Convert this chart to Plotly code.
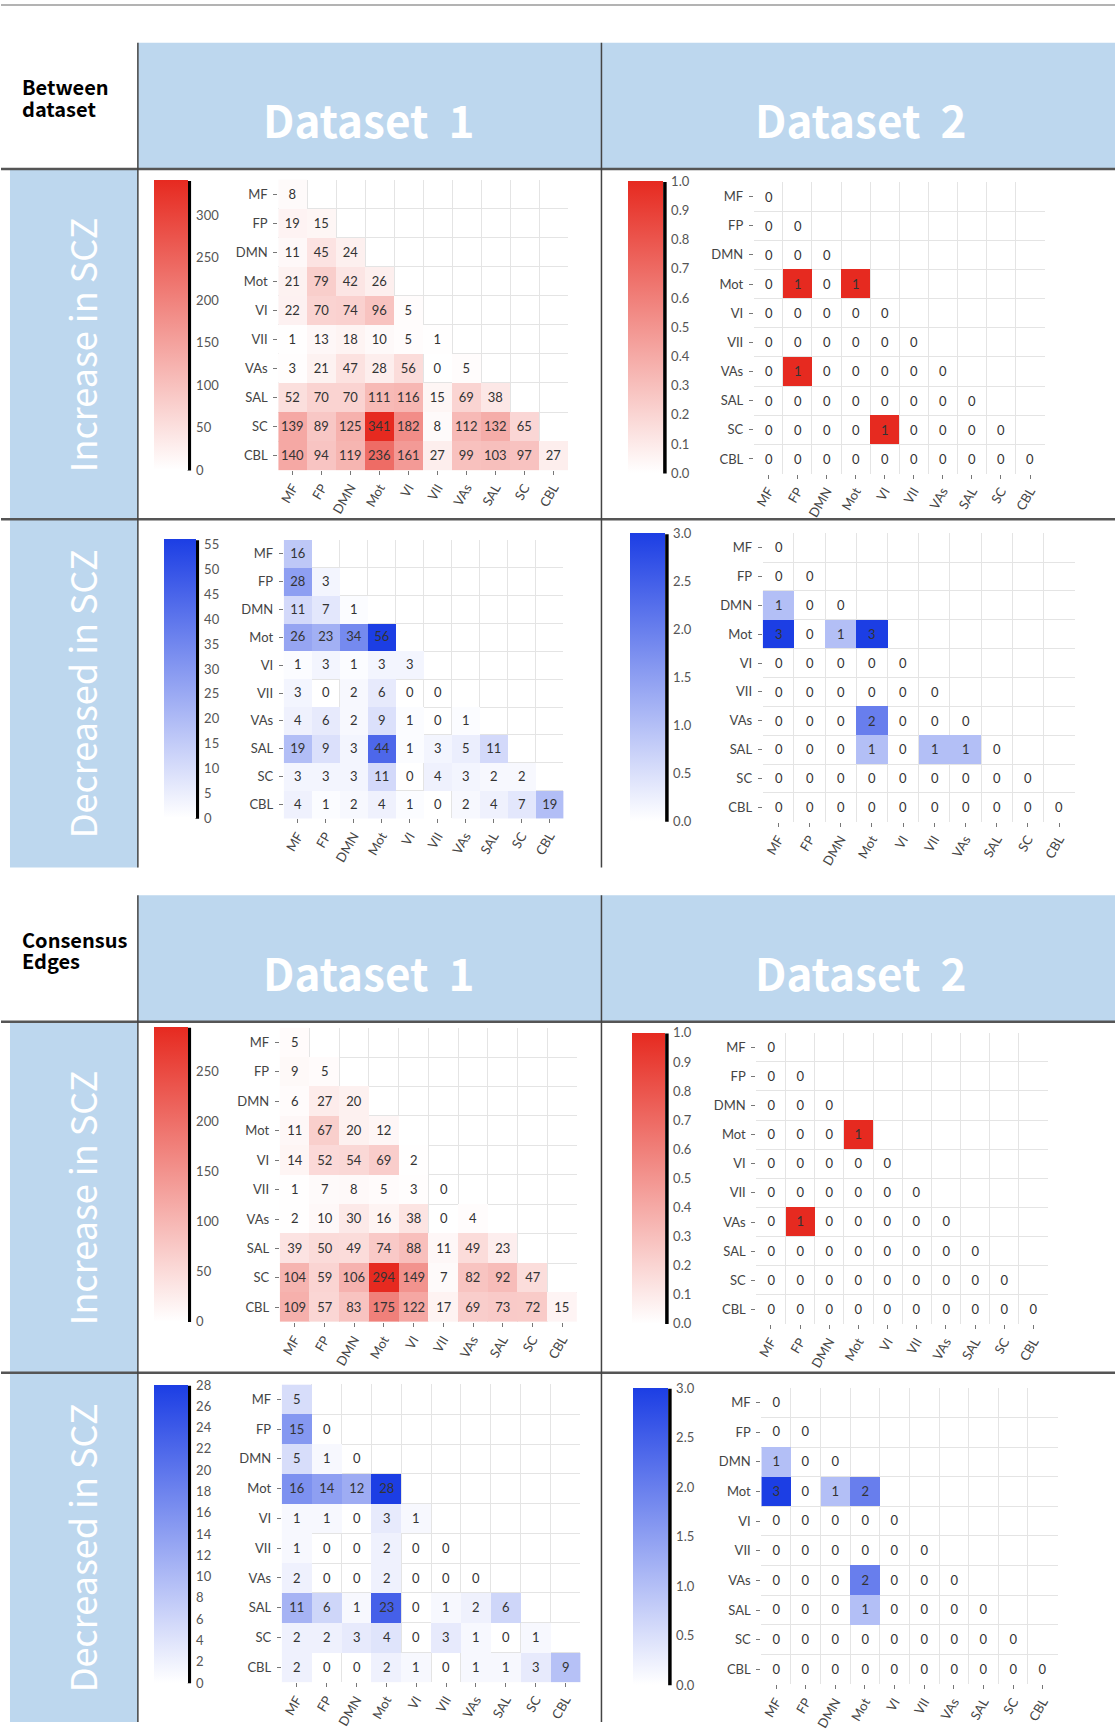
import plotly.graph_objects as go

W, H = 1115, 1731

networks = ["MF", "FP", "DMN", "Mot", "VI", "VII", "VAs", "SAL", "SC", "CBL"]

# ---- data: lower-triangle rows (row i has i+1 values) ----
between_d1_increase = [
    [8],
    [19, 15],
    [11, 45, 24],
    [21, 79, 42, 26],
    [22, 70, 74, 96, 5],
    [1, 13, 18, 10, 5, 1],
    [3, 21, 47, 28, 56, 0, 5],
    [52, 70, 70, 111, 116, 15, 69, 38],
    [139, 89, 125, 341, 182, 8, 112, 132, 65],
    [140, 94, 119, 236, 161, 27, 99, 103, 97, 27],
]
between_d2_increase = [
    [0],
    [0, 0],
    [0, 0, 0],
    [0, 1, 0, 1],
    [0, 0, 0, 0, 0],
    [0, 0, 0, 0, 0, 0],
    [0, 1, 0, 0, 0, 0, 0],
    [0, 0, 0, 0, 0, 0, 0, 0],
    [0, 0, 0, 0, 1, 0, 0, 0, 0],
    [0, 0, 0, 0, 0, 0, 0, 0, 0, 0],
]
between_d1_decrease = [
    [16],
    [28, 3],
    [11, 7, 1],
    [26, 23, 34, 56],
    [1, 3, 1, 3, 3],
    [3, 0, 2, 6, 0, 0],
    [4, 6, 2, 9, 1, 0, 1],
    [19, 9, 3, 44, 1, 3, 5, 11],
    [3, 3, 3, 11, 0, 4, 3, 2, 2],
    [4, 1, 2, 4, 1, 0, 2, 4, 7, 19],
]
between_d2_decrease = [
    [0],
    [0, 0],
    [1, 0, 0],
    [3, 0, 1, 3],
    [0, 0, 0, 0, 0],
    [0, 0, 0, 0, 0, 0],
    [0, 0, 0, 2, 0, 0, 0],
    [0, 0, 0, 1, 0, 1, 1, 0],
    [0, 0, 0, 0, 0, 0, 0, 0, 0],
    [0, 0, 0, 0, 0, 0, 0, 0, 0, 0],
]
consensus_d1_increase = [
    [5],
    [9, 5],
    [6, 27, 20],
    [11, 67, 20, 12],
    [14, 52, 54, 69, 2],
    [1, 7, 8, 5, 3, 0],
    [2, 10, 30, 16, 38, 0, 4],
    [39, 50, 49, 74, 88, 11, 49, 23],
    [104, 59, 106, 294, 149, 7, 82, 92, 47],
    [109, 57, 83, 175, 122, 17, 69, 73, 72, 15],
]
consensus_d2_increase = [
    [0],
    [0, 0],
    [0, 0, 0],
    [0, 0, 0, 1],
    [0, 0, 0, 0, 0],
    [0, 0, 0, 0, 0, 0],
    [0, 1, 0, 0, 0, 0, 0],
    [0, 0, 0, 0, 0, 0, 0, 0],
    [0, 0, 0, 0, 0, 0, 0, 0, 0],
    [0, 0, 0, 0, 0, 0, 0, 0, 0, 0],
]
consensus_d1_decrease = [
    [5],
    [15, 0],
    [5, 1, 0],
    [16, 14, 12, 28],
    [1, 1, 0, 3, 1],
    [1, 0, 0, 2, 0, 0],
    [2, 0, 0, 2, 0, 0, 0],
    [11, 6, 1, 23, 0, 1, 2, 6],
    [2, 2, 3, 4, 0, 3, 1, 0, 1],
    [2, 0, 0, 2, 1, 0, 1, 1, 3, 9],
]
consensus_d2_decrease = [
    [0],
    [0, 0],
    [1, 0, 0],
    [3, 0, 1, 2],
    [0, 0, 0, 0, 0],
    [0, 0, 0, 0, 0, 0],
    [0, 0, 0, 2, 0, 0, 0],
    [0, 0, 0, 1, 0, 0, 0, 0],
    [0, 0, 0, 0, 0, 0, 0, 0, 0],
    [0, 0, 0, 0, 0, 0, 0, 0, 0, 0],
]

# ---- styling / layout (pixel boxes) ----
RED = [[0, "rgba(255,255,255,0)"], [0.0005, "rgb(255,255,255)"], [1, "rgb(230,42,32)"]]
BLUE = [[0, "rgba(255,255,255,0)"], [0.0005, "rgb(255,255,255)"], [1, "rgb(28,62,228)"]]
HEADER_BLUE = "#BDD7EE"

panels = [
    dict(data=between_d1_increase, cs=RED, zmax=None, dtick=50, fmt="d",
         box=(277.5, 567.5, 180.5, 472.6), cbar=(153, 187, 182, 472)),
    dict(data=between_d2_increase, cs=RED, zmax=1.0, dtick=0.1, fmt=".1f",
         box=(753.5, 1044.5, 183, 476), cbar=(628, 663, 183, 475)),
    dict(data=between_d1_decrease, cs=BLUE, zmax=None, dtick=5, fmt="d",
         box=(283, 563, 542.7, 822.7), cbar=(163, 195, 543, 822)),
    dict(data=between_d2_decrease, cs=BLUE, zmax=3.0, dtick=0.5, fmt=".1f",
         box=(762.4, 1074.6, 536, 826), cbar=(630, 665, 537, 825)),
    dict(data=consensus_d1_increase, cs=RED, zmax=None, dtick=50, fmt="d",
         box=(279, 576.6, 1033, 1329), cbar=(153, 187, 1033, 1328)),
    dict(data=consensus_d2_increase, cs=RED, zmax=1.0, dtick=0.1, fmt=".1f",
         box=(756, 1048, 1038, 1331), cbar=(632, 665, 1039, 1330)),
    dict(data=consensus_d1_decrease, cs=BLUE, zmax=None, dtick=2, fmt="d",
         box=(281, 580, 1391.7, 1691), cbar=(153, 187, 1393, 1691)),
    dict(data=consensus_d2_decrease, cs=BLUE, zmax=3.0, dtick=0.5, fmt=".1f",
         box=(761, 1057.5, 1395, 1693), cbar=(633, 668, 1396, 1693)),
]


def px_x(x):
    return x / W


def px_y(y):
    return 1 - y / H


fig = go.Figure()
layout_axes = {}
shapes = []
n = len(networks)
idx = list(range(n))

for i, p in enumerate(panels, start=1):
    rows = p["data"]
    z, txt = [], []
    for r in range(n):
        zr, tr = [], []
        for c in range(n):
            if c < len(rows[r]):
                zr.append(rows[r][c])
                tr.append(str(rows[r][c]))
            else:
                zr.append(None)
                tr.append("")
        z.append(zr)
        txt.append(tr)
    zmax = p["zmax"] if p["zmax"] is not None else max(max(r) for r in rows)
    x0, x1, y0, y1 = p["box"]
    cx0, cx1, cy0, cy1 = p["cbar"]
    fig.add_trace(go.Heatmap(
        x=idx, y=idx, z=z, text=txt, texttemplate="%{text}",
        textfont=dict(family="Lato", size=13, color="#333333"),
        colorscale=p["cs"], zmin=0, zmax=zmax,
        hoverinfo="skip",
        xaxis=f"x{i}", yaxis=f"y{i}",
        colorbar=dict(
            x=px_x(cx0), xanchor="left",
            y=px_y((cy0 + cy1) / 2), yanchor="middle",
            len=cy1 - cy0, lenmode="pixels",
            thickness=cx1 - cx0, thicknessmode="pixels",
            xpad=0, ypad=0, outlinewidth=0,
            ticks="outside", ticklen=6, tickcolor="rgba(0,0,0,0)",
            tickmode="linear", tick0=0, dtick=p["dtick"], tickformat=p["fmt"],
            tickfont=dict(family="Lato", size=13, color="#555555"),
        ),
    ))
    minor = dict(tickmode="array", tickvals=[k + 0.5 for k in range(n - 1)],
                 showgrid=True, gridcolor="#e4e4e4", gridwidth=1, ticks="")
    layout_axes[f"xaxis{i}"] = dict(
        domain=[px_x(x0), px_x(x1)], anchor=f"y{i}", range=[-0.5, n - 0.5],
        tickmode="array", tickvals=idx, ticktext=networks, tickangle=-60,
        ticks="outside", ticklen=4, tickcolor="#777777",
        showgrid=False, zeroline=False, showline=False, minor=minor,
        tickfont=dict(family="Lato", size=13, color="#444444"), fixedrange=True,
    )
    layout_axes[f"yaxis{i}"] = dict(
        domain=[px_y(y1), px_y(y0)], anchor=f"x{i}", range=[n - 0.5, -0.5],
        tickmode="array", tickvals=idx, ticktext=networks,
        ticks="outside", ticklen=4, tickcolor="#777777", ticklabelstandoff=3,
        showgrid=False, zeroline=False, showline=False, minor=minor,
        tickfont=dict(family="Lato", size=13, color="#444444"), fixedrange=True,
    )
    shapes.append(dict(type="line", xref="paper", yref="paper",
                       x0=px_x(cx1 + 1.5), x1=px_x(cx1 + 1.5),
                       y0=px_y(cy1 + 1), y1=px_y(cy0),
                       line=dict(color="black", width=3.5)))

# ---- table frame ----
sections = [
    dict(top=43, hdr=170, mid=522, bot=872, label=["Between", "dataset"]),
    dict(top=900, hdr=1027, mid=1380, bot=1731, label=["Consensus", "Edges"]),
]
annotations = []
for s in sections:
    shapes.append(dict(type="rect", xref="paper", yref="paper", layer="below",
                       x0=px_x(137), x1=px_x(1115), y0=px_y(s["hdr"]), y1=px_y(s["top"]),
                       fillcolor=HEADER_BLUE, line=dict(width=0)))
    shapes.append(dict(type="rect", xref="paper", yref="paper", layer="below",
                       x0=px_x(9), x1=px_x(137), y0=px_y(s["mid"]), y1=px_y(s["hdr"]),
                       fillcolor=HEADER_BLUE, line=dict(width=0)))
    shapes.append(dict(type="rect", xref="paper", yref="paper", layer="below",
                       x0=px_x(9), x1=px_x(137), y0=px_y(s["bot"]), y1=px_y(s["mid"]),
                       fillcolor=HEADER_BLUE, line=dict(width=0)))
    for yy in (s["hdr"], s["mid"]):
        shapes.append(dict(type="line", xref="paper", yref="paper",
                           x0=0, x1=1, y0=px_y(yy), y1=px_y(yy),
                           line=dict(color="#555555", width=2.5)))
    for xx in (137, 601):
        shapes.append(dict(type="line", xref="paper", yref="paper",
                           x0=px_x(xx), x1=px_x(xx), y0=px_y(s["bot"]), y1=px_y(s["top"]),
                           line=dict(color="#444444", width=1.5)))
    annotations.append(dict(text=s["label"][0], x=px_x(19), y=px_y(s["top"] + 44),
                            xref="paper", yref="paper", xanchor="left", yanchor="middle",
                            showarrow=False,
                            font=dict(family="Noto Sans CJK KR", size=20, color="black", weight="bold")))
    annotations.append(dict(text=s["label"][1], x=px_x(19), y=px_y(s["top"] + 66),
                            xref="paper", yref="paper", xanchor="left", yanchor="middle",
                            showarrow=False,
                            font=dict(family="Noto Sans CJK KR", size=20, color="black", weight="bold")))
    for cx, t in ((368, "Dataset\u00a0\u00a01"), (860, "Dataset\u00a0\u00a02")):
        annotations.append(dict(text=t, x=px_x(cx), y=px_y(s["top"] + 77),
                                xref="paper", yref="paper", xanchor="center", yanchor="middle",
                                showarrow=False,
                                font=dict(family="Noto Sans CJK KR", size=44, color="white", weight="bold")))
    for (ya, yb), t in (((s["hdr"], s["mid"]), "Increase in SCZ"),
                        ((s["mid"], s["bot"]), "Decreased in SCZ")):
        annotations.append(dict(text=t, x=px_x(80), y=px_y((ya + yb) / 2),
                                xref="paper", yref="paper", xanchor="center", yanchor="middle",
                                textangle=-90, showarrow=False,
                                font=dict(family="Noto Sans CJK KR", size=36, color="white")))

shapes.append(dict(type="line", xref="paper", yref="paper", x0=0, x1=1,
                   y0=px_y(5), y1=px_y(5), line=dict(color="#9a9a9a", width=1.5)))

fig.update_layout(
    width=W, height=H, autosize=False,
    margin=dict(l=0, r=0, t=0, b=0),
    paper_bgcolor="white", plot_bgcolor="white",
    showlegend=False, shapes=shapes, annotations=annotations,
    **layout_axes,
)

fig.write_html("out.html", config={"displayModeBar": False},
               post_script="document.body.style.margin='0px';document.body.style.overflow='hidden';")
